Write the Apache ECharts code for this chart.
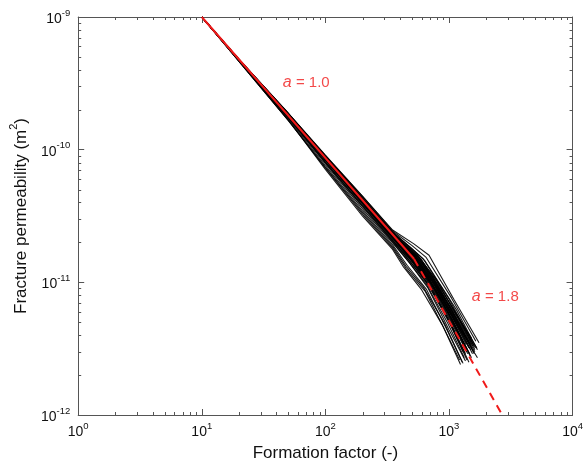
<!DOCTYPE html>
<html><head><meta charset="utf-8">
<script src="https://cdn.jsdelivr.net/npm/echarts@6/dist/echarts.min.js"></script>
<style>html,body{margin:0;padding:0;background:#fff}#c{width:586px;height:469px}</style>
</head><body><div id="c"></div>
<script>
// Formation factor grid shared by the early part of every simulated run
const gridX = [10, 20, 50, 100, 200, 350];
// Fracture permeability of each run at gridX
const runHeadY = [
  [1.0e-9, 4.80e-10, 1.89e-10, 9.10e-11, 4.45e-11, 2.48e-11],
  [1.0e-9, 4.80e-10, 1.88e-10, 9.00e-11, 4.45e-11, 2.44e-11],
  [1.0e-9, 4.78e-10, 1.87e-10, 8.90e-11, 4.30e-11, 2.38e-11],
  [1.0e-9, 4.79e-10, 1.88e-10, 8.95e-11, 4.35e-11, 2.40e-11],
  [1.0e-9, 4.78e-10, 1.86e-10, 8.80e-11, 4.25e-11, 2.34e-11],
  [1.0e-9, 4.78e-10, 1.87e-10, 8.85e-11, 4.20e-11, 2.33e-11],
  [1.0e-9, 4.76e-10, 1.84e-10, 8.70e-11, 4.10e-11, 2.30e-11],
  [1.0e-9, 4.74e-10, 1.83e-10, 8.60e-11, 4.05e-11, 2.25e-11],
  [1.0e-9, 4.78e-10, 1.86e-10, 8.85e-11, 4.20e-11, 2.35e-11],
  [1.0e-9, 4.74e-10, 1.82e-10, 8.50e-11, 4.00e-11, 2.20e-11],
  [1.0e-9, 4.77e-10, 1.85e-10, 8.75e-11, 4.20e-11, 2.30e-11],
  [1.0e-9, 4.73e-10, 1.81e-10, 8.40e-11, 3.95e-11, 2.15e-11],
  [1.0e-9, 4.75e-10, 1.84e-10, 8.65e-11, 4.05e-11, 2.22e-11],
  [1.0e-9, 4.76e-10, 1.83e-10, 8.60e-11, 4.10e-11, 2.28e-11],
  [1.0e-9, 4.74e-10, 1.82e-10, 8.55e-11, 3.95e-11, 2.18e-11],
  [1.0e-9, 4.77e-10, 1.86e-10, 8.80e-11, 4.25e-11, 2.38e-11],
  [1.0e-9, 4.72e-10, 1.80e-10, 8.30e-11, 3.90e-11, 2.10e-11],
  [1.0e-9, 4.75e-10, 1.83e-10, 8.60e-11, 4.02e-11, 2.25e-11],
  [1.0e-9, 4.74e-10, 1.84e-10, 8.70e-11, 4.08e-11, 2.26e-11],
  [1.0e-9, 4.76e-10, 1.85e-10, 8.75e-11, 4.15e-11, 2.32e-11],
  [1.0e-9, 4.73e-10, 1.81e-10, 8.45e-11, 3.98e-11, 2.20e-11],
  [1.0e-9, 4.75e-10, 1.82e-10, 8.55e-11, 4.00e-11, 2.22e-11],
  [1.0e-9, 4.76e-10, 1.85e-10, 8.70e-11, 4.12e-11, 2.30e-11],
  [1.0e-9, 4.74e-10, 1.83e-10, 8.55e-11, 4.00e-11, 2.20e-11],
  [1.0e-9, 4.75e-10, 1.84e-10, 8.65e-11, 4.08e-11, 2.27e-11],
  [1.0e-9, 4.73e-10, 1.82e-10, 8.50e-11, 3.98e-11, 2.18e-11],
  [1.0e-9, 4.77e-10, 1.86e-10, 8.80e-11, 4.18e-11, 2.33e-11],
  [1.0e-9, 4.74e-10, 1.83e-10, 8.60e-11, 4.05e-11, 2.24e-11],
  [1.0e-9, 4.72e-10, 1.81e-10, 8.40e-11, 3.92e-11, 2.14e-11],
  [1.0e-9, 4.76e-10, 1.84e-10, 8.70e-11, 4.10e-11, 2.28e-11],
  [1.0e-9, 4.62e-10, 1.66e-10, 7.30e-11, 3.25e-11, 1.82e-11],
  [1.0e-9, 4.66e-10, 1.71e-10, 7.60e-11, 3.45e-11, 1.92e-11],
  [1.0e-9, 4.64e-10, 1.68e-10, 7.10e-11, 3.15e-11, 1.77e-11],
  [1.0e-9, 4.68e-10, 1.74e-10, 7.85e-11, 3.58e-11, 1.98e-11],
  [1.0e-9, 4.69e-10, 1.76e-10, 8.00e-11, 3.70e-11, 2.02e-11],
  [1.0e-9, 4.68e-10, 1.75e-10, 8.05e-11, 3.75e-11, 2.05e-11],
  [1.0e-9, 4.63e-10, 1.67e-10, 7.40e-11, 3.35e-11, 1.87e-11],
  [1.0e-9, 4.70e-10, 1.77e-10, 8.10e-11, 3.80e-11, 2.06e-11]
];
// Late part of each run: [F1,k1, F2,k2, F3,k3, Fend,kend]
const runTail = [
  [520, 1.95e-11, 690, 1.60e-11, 1100, 7.4e-12, 1750, 3.5e-12],
  [500, 1.90e-11, 650, 1.55e-11, 1050, 7.6e-12, 1650, 3.6e-12],
  [480, 1.85e-11, 620, 1.50e-11, 1000, 7.5e-12, 1580, 3.4e-12],
  [500, 1.80e-11, 640, 1.45e-11, 1150, 6.2e-12, 1700, 3.1e-12],
  [470, 1.80e-11, 600, 1.48e-11, 980, 7.0e-12, 1520, 3.8e-12],
  [480, 1.75e-11, 600, 1.42e-11, 1000, 6.6e-12, 1620, 3.0e-12],
  [520, 1.60e-11, 700, 1.10e-11, 1000, 6.3e-12, 1500, 3.4e-12],
  [530, 1.55e-11, 720, 1.05e-11, 1050, 5.6e-12, 1450, 3.2e-12],
  [560, 1.55e-11, 750, 1.08e-11, 1100, 5.8e-12, 1600, 3.3e-12],
  [500, 1.55e-11, 680, 1.08e-11, 980, 5.9e-12, 1400, 3.0e-12],
  [540, 1.50e-11, 760, 9.8e-12, 1150, 5.0e-12, 1550, 2.9e-12],
  [490, 1.50e-11, 700, 1.00e-11, 1000, 5.5e-12, 1350, 3.3e-12],
  [510, 1.50e-11, 730, 9.6e-12, 1080, 5.1e-12, 1480, 2.8e-12],
  [550, 1.45e-11, 780, 9.5e-12, 1200, 4.6e-12, 1700, 2.7e-12],
  [500, 1.45e-11, 690, 1.00e-11, 1020, 5.2e-12, 1420, 2.9e-12],
  [560, 1.60e-11, 800, 1.02e-11, 1200, 5.3e-12, 1620, 3.1e-12],
  [480, 1.45e-11, 650, 1.02e-11, 950, 5.6e-12, 1300, 3.0e-12],
  [520, 1.52e-11, 740, 1.00e-11, 1120, 5.4e-12, 1580, 3.0e-12],
  [530, 1.50e-11, 700, 1.05e-11, 1000, 6.0e-12, 1450, 3.5e-12],
  [540, 1.58e-11, 760, 1.06e-11, 1100, 6.2e-12, 1680, 3.2e-12],
  [500, 1.48e-11, 720, 9.8e-12, 1060, 5.3e-12, 1520, 2.7e-12],
  [520, 1.48e-11, 710, 1.02e-11, 1040, 5.7e-12, 1380, 3.4e-12],
  [530, 1.60e-11, 730, 1.10e-11, 1080, 5.9e-12, 1560, 3.3e-12],
  [510, 1.52e-11, 700, 1.03e-11, 1000, 5.8e-12, 1400, 3.1e-12],
  [540, 1.55e-11, 760, 1.02e-11, 1120, 5.5e-12, 1600, 2.9e-12],
  [500, 1.50e-11, 690, 1.04e-11, 1030, 5.4e-12, 1470, 2.9e-12],
  [560, 1.58e-11, 780, 1.06e-11, 1150, 5.7e-12, 1640, 3.2e-12],
  [520, 1.54e-11, 710, 1.06e-11, 1060, 5.6e-12, 1500, 3.1e-12],
  [490, 1.48e-11, 680, 1.00e-11, 990, 5.3e-12, 1360, 2.9e-12],
  [530, 1.56e-11, 740, 1.04e-11, 1090, 5.8e-12, 1530, 3.2e-12],
  [450, 1.27e-11, 640, 8.6e-12, 900, 4.6e-12, 1240, 2.4e-12],
  [460, 1.34e-11, 660, 8.8e-12, 950, 4.5e-12, 1280, 2.5e-12],
  [430, 1.30e-11, 600, 8.8e-12, 880, 4.8e-12, 1220, 2.6e-12],
  [480, 1.40e-11, 680, 9.0e-12, 1000, 4.4e-12, 1360, 2.55e-12],
  [470, 1.44e-11, 660, 9.6e-12, 980, 4.9e-12, 1330, 2.7e-12],
  [490, 1.42e-11, 700, 9.2e-12, 1050, 4.6e-12, 1400, 2.6e-12],
  [450, 1.32e-11, 620, 9.2e-12, 920, 4.9e-12, 1300, 2.45e-12],
  [500, 1.44e-11, 720, 9.0e-12, 1080, 4.5e-12, 1450, 2.5e-12]
];
// Power-law fits
const fitSolid = [[10, 1.0e-9], [522, 1.5e-11]];     // a = 1.0
const fitDashed = [[522, 1.5e-11], [2700, 1.0e-12]]; // a = 1.8
const fitLabels = ['a = 1.0', 'a = 1.8'];
const fitLabelPos = [[70, 3.2e-10], [2370, 7.8e-12]];
// Axis ranges and minor tick values
const xRange = [1, 10000];
const yRange = [1e-12, 1e-9];
const xMinorTicks = [2,3,4,5,6,7,8,9, 20,30,40,50,60,70,80,90, 200,300,400,500,600,700,800,900, 2000,3000,4000,5000,6000,7000,8000,9000];
const yMinorTicks = [2e-12,3e-12,4e-12,5e-12,6e-12,7e-12,8e-12,9e-12, 2e-11,3e-11,4e-11,5e-11,6e-11,7e-11,8e-11,9e-11, 2e-10,3e-10,4e-10,5e-10,6e-10,7e-10,8e-10,9e-10];

const FONT = '"Liberation Sans", Arial, sans-serif';
const AX = '#555';
const RED = '#f01a1a';

function powLabel(v) {
  const e = Math.round(Math.log10(v));
  return '{b|10}{s|' + e + '}';
}
const richPow = {
  b: { fontSize: 14, fontFamily: FONT, color: '#111', lineHeight: 18, verticalAlign: 'bottom' },
  s: { fontSize: 9.5, fontFamily: FONT, color: '#111', lineHeight: 18, verticalAlign: 'top', padding: [0, 0, 9, 0] }
};

const series = [];
runHeadY.forEach(function (ys, i) {
  const pts = gridX.map(function (x, j) { return [x, ys[j]]; });
  const t = runTail[i];
  for (let k = 0; k < t.length; k += 2) pts.push([t[k], t[k + 1]]);
  series.push({
    type: 'line', data: pts, symbol: 'none', silent: true, z: 2,
    lineStyle: { color: '#000', width: 1.1, opacity: 0.9 }
  });
});
series.push({
  type: 'line', data: fitSolid, symbol: 'none', silent: true, z: 5,
  lineStyle: { color: RED, width: 2 }
});
series.push({
  type: 'line', data: fitDashed, symbol: 'none', silent: true, z: 5,
  lineStyle: { color: RED, width: 2, type: [8, 6] }
});
series.push({
  type: 'scatter', silent: true, z: 6, symbolSize: 0,
  data: fitLabelPos.map(function (p, i) { return { value: p, name: fitLabels[i] }; }),
  label: {
    show: true, position: 'inside',
    formatter: function (p) { return '{i|a}{n|' + p.name.slice(1) + '}'; },
    rich: {
      i: { fontSize: 16, fontStyle: 'italic', fontFamily: FONT, color: RED },
      n: { fontSize: 15, fontFamily: FONT, color: RED }
    }
  }
});
function tickSeries(values, isX) {
  return {
    type: 'custom', silent: true, z: 10, clip: false,
    data: values.map(function (v) { return isX ? [v, yRange[0]] : [xRange[0], v]; }),
    encode: { x: 0, y: 1 },
    renderItem: function (params, api) {
      const L = 3;
      const st = { stroke: AX, lineWidth: 1 };
      if (isX) {
        const v = api.value(0);
        const b = api.coord([v, yRange[0]]);
        const t = api.coord([v, yRange[1]]);
        const x = Math.round(b[0]) + 0.5;
        return { type: 'group', children: [
          { type: 'line', shape: { x1: x, y1: b[1], x2: x, y2: b[1] - L }, style: st },
          { type: 'line', shape: { x1: x, y1: t[1], x2: x, y2: t[1] + L }, style: st }
        ]};
      } else {
        const v = api.value(1);
        const l = api.coord([xRange[0], v]);
        const r = api.coord([xRange[1], v]);
        const y = Math.round(l[1]) + 0.5;
        return { type: 'group', children: [
          { type: 'line', shape: { x1: l[0], y1: y, x2: l[0] + L, y2: y }, style: st },
          { type: 'line', shape: { x1: r[0], y1: y, x2: r[0] - L, y2: y }, style: st }
        ]};
      }
    }
  };
}
series.push(tickSeries(xMinorTicks, true));
series.push(tickSeries(yMinorTicks, false));

const axisLineStyle = { show: true, lineStyle: { color: AX, width: 1 } };
const majorTick = { show: true, inside: true, length: 6, lineStyle: { color: AX, width: 1 } };

const option = {
  animation: false,
  backgroundColor: '#fff',
  grid: { left: 77, right: 10, top: 17, bottom: 54, containLabel: false },
  xAxis: [
    {
      type: 'log', logBase: 10, min: xRange[0], max: xRange[1], position: 'bottom',
      axisLine: axisLineStyle, axisTick: majorTick, splitLine: { show: false },
      axisLabel: { formatter: powLabel, rich: richPow, margin: 6, showMinLabel: true, showMaxLabel: true },
      name: 'Formation factor (-)', nameLocation: 'middle', nameGap: 28,
      nameTextStyle: { fontSize: 17, fontFamily: FONT, color: '#111' }
    },
    {
      type: 'log', logBase: 10, min: xRange[0], max: xRange[1], position: 'top',
      axisLine: axisLineStyle, axisTick: majorTick, splitLine: { show: false },
      axisLabel: { show: false }
    }
  ],
  yAxis: [
    {
      type: 'log', logBase: 10, min: yRange[0], max: yRange[1], position: 'left',
      axisLine: axisLineStyle, axisTick: majorTick, splitLine: { show: false },
      axisLabel: { formatter: powLabel, rich: richPow, margin: 8, showMinLabel: true, showMaxLabel: true },
      name: '{t|Fracture permeability (m}{s|2}{t|)}', nameLocation: 'middle', nameGap: 37,
      nameTextStyle: {
        rich: {
          t: { fontSize: 17, fontFamily: FONT, color: '#111', lineHeight: 22, verticalAlign: 'bottom' },
          s: { fontSize: 11, fontFamily: FONT, color: '#111', lineHeight: 22, verticalAlign: 'top', padding: [0, 0, 10, 0] }
        }
      }
    },
    {
      type: 'log', logBase: 10, min: yRange[0], max: yRange[1], position: 'right',
      axisLine: axisLineStyle, axisTick: majorTick, splitLine: { show: false },
      axisLabel: { show: false }
    }
  ],
  series: series
};
const chart = echarts.init(document.getElementById('c'), null, { renderer: 'canvas' });
chart.setOption(option);
</script>
</body></html>
